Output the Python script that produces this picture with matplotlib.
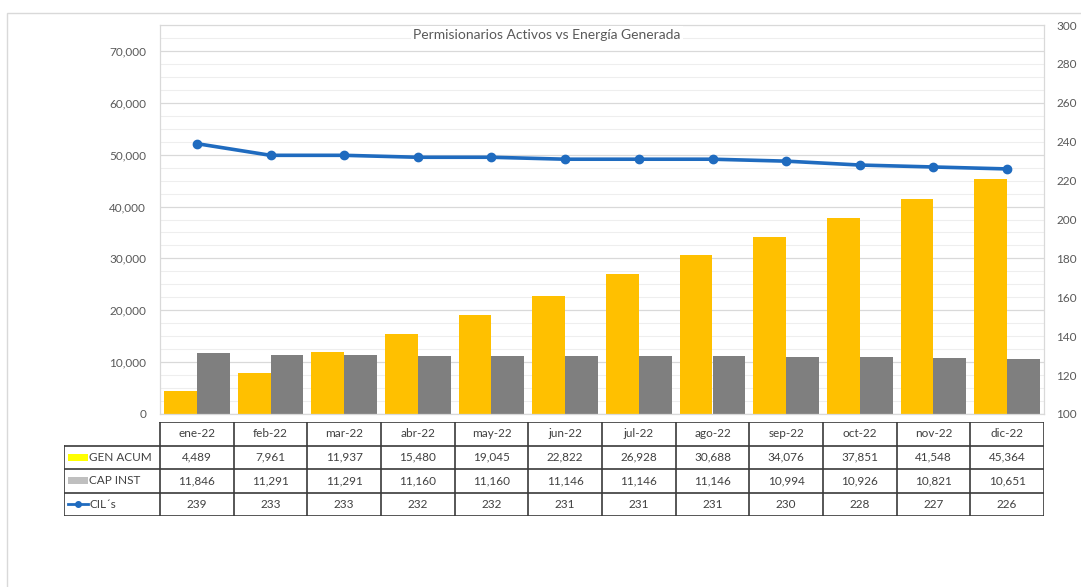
import matplotlib
matplotlib.use("Agg")
import matplotlib.pyplot as plt
from matplotlib.patches import Rectangle
from matplotlib.lines import Line2D
import numpy as np

# data
meses = ["ene-22", "feb-22", "mar-22", "abr-22", "may-22", "jun-22",
         "jul-22", "ago-22", "sep-22", "oct-22", "nov-22", "dic-22"]
gen_acum = [4489, 7961, 11937, 15480, 19045, 22822, 26928, 30688, 34076, 37851, 41548, 45364]
cap_inst = [11846, 11291, 11291, 11160, 11160, 11146, 11146, 11146, 10994, 10926, 10821, 10651]
cils = [239, 233, 233, 232, 232, 231, 231, 231, 230, 228, 227, 226]
row_labels = ["GEN ACUM", "CAP INST", "CIL´s"]
titulo = "Permisionarios Activos vs Energía Generada"

plt.rcParams['font.family'] = ['Lato', 'DejaVu Sans']

W, H = 1081, 587
fig = plt.figure(figsize=(W / 100, H / 100), dpi=100)

def px(x0, y0, x1, y1):
    # pixel box (top-left origin) -> figure rect
    return [x0 / W, 1 - y1 / H, (x1 - x0) / W, (y1 - y0) / H]

# outer chart frame
fig.patches.append(Rectangle((7 / W, -0.1), 1.2, 1 - 13 / H + 0.1, transform=fig.transFigure,
                             fill=False, ec="#d9d9d9", lw=1))

x = np.arange(len(meses))
bw = 0.445

ax = fig.add_axes(px(160, 25, 1044, 414))
ax.bar(x - bw / 2, gen_acum, bw, color="#FFC000")
ax.bar(x + bw / 2, cap_inst, bw, color="#7F7F7F")
ax.set_xlim(-0.5, len(meses) - 0.5)
ax.set_ylim(0, 75000)
ax.set_yticks(np.arange(0, 70001, 10000))
ax.set_yticks(np.arange(0, 75001, 2500), minor=True)
ax.yaxis.set_major_formatter(matplotlib.ticker.FuncFormatter(lambda v, p: f"{int(v):,}"))
ax.grid(axis="y", which="major", color="#d9d9d9", lw=0.9)
ax.grid(axis="y", which="minor", color="#eeeeee", lw=0.8)
ax.set_axisbelow(True)
ax.set_xticks([])
ax.tick_params(axis="y", which="both", length=0, pad=10, labelsize=8.5, labelcolor="#595959")
for s in ax.spines.values():
    s.set_color("#d9d9d9")
    s.set_linewidth(0.9)

ax2 = ax.twinx()
ax2.plot(x, cils, color="#1F6BBF", lw=2.6, marker="o", ms=6)
ax2.set_ylim(100, 300)
ax2.set_yticks(np.arange(100, 301, 20))
ax2.tick_params(axis="y", length=0, pad=9, labelsize=8.5, labelcolor="#595959")
for s in ax2.spines.values():
    s.set_visible(False)

fig.text(547 / W, 1 - 35 / H, titulo, ha="center", va="center", fontsize=10,
         color="#595959", bbox=dict(fc="white", ec="none", pad=2))

# data table under the chart
cat_w = 884 / 12
lab_w = (160 - 64) / cat_w
tax = fig.add_axes(px(64, 422, 1044, 516))
tax.set_xlim(-0.5 - lab_w, len(meses) - 0.5)
tax.set_ylim(4, 0)
tax.axis("off")
lc, lw = "#3a3a3a", 1.2
tax.plot([-0.5, len(meses) - 0.5], [0, 0], color=lc, lw=lw)
for r in range(1, 5):
    tax.plot([-0.5 - lab_w, len(meses) - 0.5], [r, r], color=lc, lw=lw)
tax.plot([-0.5 - lab_w] * 2, [1, 4], color=lc, lw=lw)
for i in range(len(meses) + 1):
    tax.plot([i - 0.5] * 2, [0, 4], color=lc, lw=lw)

tc = "#404040"
for i, m in enumerate(meses):
    tax.text(i, 0.5, m, ha="center", va="center", fontsize=8.5, color=tc)
    tax.text(i, 1.5, f"{gen_acum[i]:,}", ha="center", va="center", fontsize=8.5, color=tc)
    tax.text(i, 2.5, f"{cap_inst[i]:,}", ha="center", va="center", fontsize=8.5, color=tc)
    tax.text(i, 3.5, f"{cils[i]}", ha="center", va="center", fontsize=8.5, color=tc)

x0 = -0.5 - lab_w
tax.add_patch(Rectangle((x0 + 0.05, 1.35), 0.27, 0.3, color="#FFFF00", lw=0))
tax.add_patch(Rectangle((x0 + 0.05, 2.35), 0.27, 0.3, color="#BFBFBF", lw=0))
tax.add_line(Line2D([x0 + 0.05, x0 + 0.33], [3.5, 3.5], color="#1F6BBF", lw=2))
tax.plot([x0 + 0.19], [3.5], marker="o", ms=4, color="#1F6BBF")
for r, lab in enumerate(row_labels):
    tax.text(x0 + 0.34, r + 1.5, lab, ha="left", va="center", fontsize=8.5, color=tc)

fig.savefig("out.png", dpi=100)
